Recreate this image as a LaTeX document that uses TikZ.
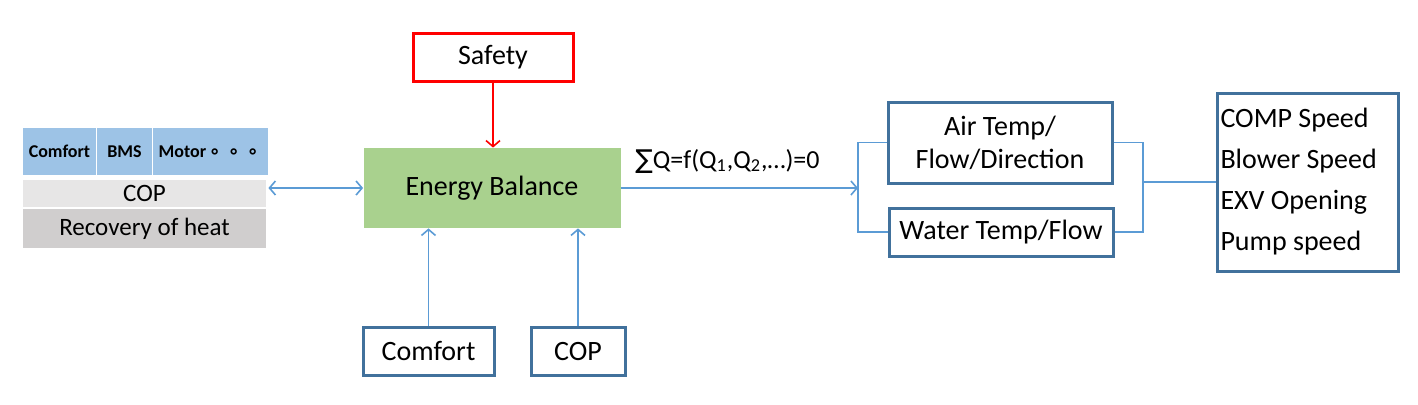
\documentclass[tikz,border=0pt]{standalone}
\usepackage{fontspec}
\setmainfont{Carlito}
\newfontfamily\cjkfont{Noto Sans CJK SC}
\newfontfamily\symfont{DejaVu Sans}
\usetikzlibrary{arrows.meta}
\definecolor{boxblue}{HTML}{41719C}
\definecolor{connblue}{HTML}{5B9BD5}
\definecolor{cellblue}{HTML}{9DC3E6}
\definecolor{copgray}{HTML}{E7E6E6}
\definecolor{recgray}{HTML}{D0CECE}
\definecolor{ebgreen}{HTML}{A9D18E}
\definecolor{safered}{HTML}{FF0000}
\begin{document}
\begin{tikzpicture}[x=0.5pt,y=-0.5pt,
  every node/.style={font=\fontsize{14}{17}\selectfont, inner sep=0pt},
  stack/.style={font=\fontsize{12.5}{15}\selectfont},
  bluebox/.style={draw=boxblue, line width=1.5pt, fill=white},
  cell/.style={fill=cellblue, font=\bfseries\fontsize{9}{11}\selectfont},
  conn/.style={draw=connblue, line width=0.8pt},
  tip/.style={-{Straight Barb[length=3pt,width=7pt]}}
]
\useasboundingbox (0,0) rectangle (1418,404);
% left stack
\node[cell, minimum width=36.5pt, minimum height=23.5pt] (c1) at (59.5,151.5) {Comfort};
\node[cell, minimum width=27.5pt, minimum height=23.5pt] (c2) at (124.5,151.5) {BMS};
\node[cell, minimum width=29.5pt, minimum height=23.5pt] (c3) at (182.5,151.5) {Motor};
\node[cell, minimum width=26.5pt, minimum height=23.5pt] (c4) at (239.5,151.5) {\cjkfont\fontsize{9.5}{10}\selectfont 。。。};
\node[stack, fill=copgray, minimum width=121.5pt, minimum height=13.5pt] (copL) at (144.5,193.5) {COP};
\node[stack, fill=recgray, minimum width=121.5pt, minimum height=19.5pt] (rec) at (144.5,228.5) {Recovery of heat};
% centre
\node[fill=ebgreen, minimum width=128.5pt, minimum height=40pt] (eb) at (492,188) {Energy Balance};
\node[draw=safered, line width=1.5pt, minimum width=80pt, minimum height=24pt] (safety) at (493,57) {Safety};
\node[bluebox, minimum width=65.5pt, minimum height=24pt] (comfort) at (428.5,351) {Comfort};
\node[bluebox, minimum width=47pt, minimum height=24pt] (cop) at (578,351) {COP};
% right
\node[bluebox, minimum width=112pt, minimum height=40.5pt, align=center,
  font=\fontsize{14}{16.5}\selectfont] (air) at (1000,142.5) {Air Temp/\\Flow/Direction};
\node[bluebox, minimum width=112pt, minimum height=24pt] (water) at (1001,232) {Water Temp/Flow};
\node[bluebox, minimum width=90.5pt, minimum height=89pt, align=flush left,
  text width=87pt, inner xsep=1.75pt,
  font=\fontsize{14}{20.5}\selectfont] (out) at (1307.5,182)
  {COMP Speed\\Blower Speed\\EXV Opening\\Pump speed};
% connectors
\coordinate (bl) at (858,188);
\coordinate (br) at (1143,180);
\draw[conn, {Straight Barb[length=3pt,width=7pt]}-{Straight Barb[length=3pt,width=7pt]}]
  ([xshift=1pt]copL.east |- eb.west) -- (eb.west);
\draw[draw=safered, line width=0.8pt, tip] (safety.south) -- (eb.north -| safety.south);
\draw[conn, tip] (comfort.north) -- (eb.south -| comfort.north);
\draw[conn, tip] (cop.north) -- (eb.south -| cop.north);
\draw[conn, tip] (eb.east) -- node[above=7pt, xshift=-6pt, font=\fontsize{13}{15}\selectfont]
  {{\symfont ∑}Q=f(Q\textsubscript{1},Q\textsubscript{2},…)=0} (bl);
\draw[conn] (air.west) -| (bl) |- (water.west);
\draw[conn] (air.east) -| (br) |- (water.east);
\draw[conn] (br) -- (out.west -| br) -- (out.west);
\end{tikzpicture}
\end{document}
